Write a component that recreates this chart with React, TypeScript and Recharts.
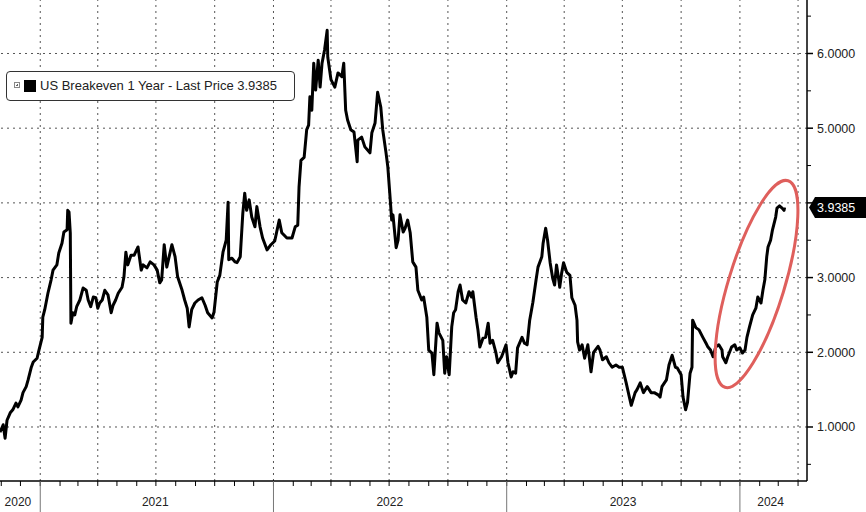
import React from "react";
import { LineChart, Line, XAxis, YAxis, ReferenceLine, ReferenceDot } from "recharts";

const SERIES_NAME = "US Breakeven 1 Year";

const dates = [
  "2020-10-30","2020-11-04","2020-11-07","2020-11-10","2020-11-15","2020-11-19","2020-11-24","2020-11-27","2020-12-02","2020-12-05",
  "2020-12-10","2020-12-13","2020-12-18","2020-12-21","2020-12-27","2020-12-30","2021-01-04","2021-01-05","2021-01-08","2021-01-13",
  "2021-01-18","2021-01-21","2021-01-27","2021-01-30","2021-02-04","2021-02-07","2021-02-12","2021-02-13","2021-02-15","2021-02-17",
  "2021-02-18","2021-02-21","2021-02-24","2021-02-27","2021-03-04","2021-03-09","2021-03-14","2021-03-17","2021-03-21","2021-03-25",
  "2021-03-29","2021-04-01","2021-04-04","2021-04-08","2021-04-12","2021-04-17","2021-04-22","2021-04-25","2021-04-29","2021-05-03",
  "2021-05-09","2021-05-12","2021-05-15","2021-05-18","2021-05-23","2021-05-28","2021-06-03","2021-06-08","2021-06-11","2021-06-17",
  "2021-06-22","2021-06-28","2021-07-03","2021-07-07","2021-07-10","2021-07-14","2021-07-18","2021-07-26","2021-07-31","2021-08-04",
  "2021-08-11","2021-08-15","2021-08-19","2021-08-22","2021-08-26","2021-08-31","2021-09-05","2021-09-11","2021-09-16","2021-09-20",
  "2021-09-27","2021-09-30","2021-10-05","2021-10-09","2021-10-14","2021-10-19","2021-10-22","2021-10-23","2021-10-28","2021-11-02",
  "2021-11-05","2021-11-10","2021-11-14","2021-11-17","2021-11-20","2021-11-24","2021-11-28","2021-12-03","2021-12-06","2021-12-11",
  "2021-12-15","2021-12-22","2021-12-28","2022-01-03","2022-01-10","2022-01-14","2022-01-22","2022-01-30","2022-02-04","2022-02-08",
  "2022-02-10","2022-02-13","2022-02-18","2022-02-22","2022-02-25","2022-02-27","2022-03-02","2022-03-05","2022-03-08","2022-03-12",
  "2022-03-15","2022-03-18","2022-03-22","2022-03-26","2022-03-27","2022-04-01","2022-04-07","2022-04-12","2022-04-18","2022-04-21",
  "2022-04-24","2022-04-27","2022-05-02","2022-05-07","2022-05-12","2022-05-13","2022-05-19","2022-05-24","2022-06-01","2022-06-04",
  "2022-06-09","2022-06-13","2022-06-18","2022-06-21","2022-06-26","2022-06-29","2022-07-02","2022-07-05","2022-07-07","2022-07-12",
  "2022-07-15","2022-07-18","2022-07-23","2022-07-26","2022-07-30","2022-08-03","2022-08-07","2022-08-12","2022-08-15","2022-08-21",
  "2022-08-24","2022-08-29","2022-09-01","2022-09-06","2022-09-09","2022-09-14","2022-09-17","2022-09-23","2022-09-26","2022-09-29",
  "2022-10-03","2022-10-07","2022-10-10","2022-10-13","2022-10-17","2022-10-20","2022-10-24","2022-10-29","2022-11-03","2022-11-07",
  "2022-11-09","2022-11-14","2022-11-17","2022-11-20","2022-11-25","2022-11-29","2022-12-03","2022-12-06","2022-12-10","2022-12-15",
  "2022-12-18","2022-12-24","2022-12-31","2023-01-03","2023-01-08","2023-01-11","2023-01-15","2023-01-18","2023-01-25","2023-01-29",
  "2023-02-02","2023-02-06","2023-02-11","2023-02-16","2023-02-19","2023-02-25","2023-02-27","2023-03-03","2023-03-06","2023-03-10",
  "2023-03-14","2023-03-17","2023-03-20","2023-03-24","2023-03-25","2023-03-28","2023-03-31","2023-04-05","2023-04-10","2023-04-13",
  "2023-04-18","2023-04-21","2023-04-22","2023-04-25","2023-04-29","2023-05-03","2023-05-08","2023-05-13","2023-05-17","2023-05-24",
  "2023-05-27","2023-05-31","2023-06-06","2023-06-10","2023-06-15","2023-06-21","2023-06-26","2023-07-01","2023-07-07","2023-07-12",
  "2023-07-15","2023-07-21","2023-07-24","2023-07-29","2023-08-03","2023-08-09","2023-08-15","2023-08-20","2023-08-26","2023-08-29",
  "2023-09-01","2023-09-08","2023-09-12","2023-09-17","2023-09-22","2023-09-25","2023-10-01","2023-10-04","2023-10-08","2023-10-11",
  "2023-10-15","2023-10-18","2023-10-19","2023-10-24","2023-10-29","2023-11-04","2023-11-09","2023-11-12","2023-11-16","2023-11-20",
  "2023-11-24","2023-11-29","2023-12-04","2023-12-05","2023-12-10","2023-12-13","2023-12-19","2023-12-24","2023-12-27","2024-01-01",
  "2024-01-05","2024-01-09","2024-01-12","2024-01-16","2024-01-21","2024-01-26","2024-01-29","2024-02-03","2024-02-06","2024-02-09",
  "2024-02-12","2024-02-14","2024-02-18","2024-02-21","2024-02-26","2024-02-28","2024-03-03","2024-03-07","2024-03-10","2024-03-11",
];

const values = [
  0.93, 1.03, 0.85, 1.09, 1.19, 1.23, 1.32, 1.27, 1.36, 1.46,
  1.54, 1.63, 1.80, 1.87, 1.92, 2.03, 2.20, 2.47, 2.57, 2.79,
  2.97, 3.10, 3.17, 3.33, 3.46, 3.61, 3.64, 3.90, 3.88, 3.60,
  2.39, 2.53, 2.50, 2.61, 2.70, 2.86, 2.83, 2.70, 2.61, 2.74,
  2.73, 2.59, 2.66, 2.70, 2.83, 2.77, 2.53, 2.63, 2.70, 2.79,
  2.87, 3.01, 3.34, 3.17, 3.30, 3.30, 3.41, 3.10, 3.17, 3.13,
  3.21, 3.17, 3.10, 2.93, 2.97, 3.44, 3.14, 3.44, 3.28, 3.01,
  2.83, 2.70, 2.59, 2.34, 2.57, 2.66, 2.70, 2.73, 2.63, 2.53,
  2.46, 2.54, 2.94, 3.03, 3.34, 3.50, 4.01, 3.24, 3.26, 3.21,
  3.20, 3.28, 3.86, 4.13, 3.90, 4.04, 3.81, 3.68, 3.95, 3.68,
  3.53, 3.37, 3.44, 3.49, 3.77, 3.60, 3.53, 3.53, 3.68, 3.70,
  4.21, 4.57, 4.61, 4.98, 5.04, 5.42, 5.24, 5.87, 5.51, 5.91,
  5.55, 5.87, 6.05, 6.31, 5.95, 5.65, 5.55, 5.74, 5.69, 5.87,
  5.24, 5.11, 4.98, 4.95, 4.55, 4.84, 4.88, 4.75, 4.67, 4.94,
  5.07, 5.48, 5.28, 4.98, 4.68, 4.48, 4.13, 3.77, 3.84, 3.40,
  3.50, 3.84, 3.61, 3.66, 3.77, 3.60, 3.21, 3.14, 2.83, 2.70,
  2.74, 2.47, 2.03, 1.99, 1.70, 2.39, 2.26, 2.16, 1.72, 1.94,
  1.70, 2.34, 2.53, 2.57, 2.81, 2.90, 2.70, 2.66, 2.81, 2.74,
  2.81, 2.47, 2.30, 2.07, 2.19, 2.20, 2.39, 2.12, 2.16, 2.00,
  1.86, 1.94, 2.10, 1.86, 1.67, 1.74, 1.72, 2.06, 2.20, 2.12,
  2.10, 2.43, 2.67, 2.97, 3.14, 3.28, 3.46, 3.66, 3.50, 3.20,
  2.99, 2.90, 3.17, 2.94, 2.87, 3.06, 3.20, 3.07, 3.03, 2.73,
  2.63, 2.43, 2.14, 2.03, 2.10, 1.92, 2.10, 1.74, 2.00, 2.08,
  2.03, 1.90, 1.94, 1.86, 1.80, 1.83, 1.80, 1.80, 1.59, 1.40,
  1.29, 1.46, 1.50, 1.59, 1.46, 1.54, 1.46, 1.46, 1.43, 1.40,
  1.54, 1.63, 1.83, 1.96, 1.80, 1.79, 1.70, 1.40, 1.23, 1.33,
  1.72, 1.80, 2.43, 2.33, 2.30, 2.20, 2.12, 2.07, 2.03, 1.94,
  2.07, 2.10, 2.03, 1.94, 1.86, 1.94, 2.07, 2.10, 2.03, 2.06,
  1.99, 2.03, 2.20, 2.34, 2.50, 2.59, 2.74, 2.66, 2.83, 2.97,
  3.28, 3.41, 3.50, 3.64, 3.81, 3.93, 3.96, 3.93, 3.90, 3.9385,
];

const monthTicks = [
  "2020-11-01","2020-12-01",
  "2021-01-01","2021-02-01","2021-03-01","2021-04-01","2021-05-01","2021-06-01",
  "2021-07-01","2021-08-01","2021-09-01","2021-10-01","2021-11-01","2021-12-01",
  "2022-01-01","2022-02-01","2022-03-01","2022-04-01","2022-05-01","2022-06-01",
  "2022-07-01","2022-08-01","2022-09-01","2022-10-01","2022-11-01","2022-12-01",
  "2023-01-01","2023-02-01","2023-03-01","2023-04-01","2023-05-01","2023-06-01",
  "2023-07-01","2023-08-01","2023-09-01","2023-10-01","2023-11-01","2023-12-01",
  "2024-01-01","2024-02-01","2024-03-01","2024-04-01",
];

const quarterGrid = [
  "2021-01-01","2021-04-01","2021-07-01","2021-10-01",
  "2022-01-01","2022-04-01","2022-07-01","2022-10-01",
  "2023-01-01","2023-04-01","2023-07-01","2023-10-01",
  "2024-01-01","2024-04-01",
];

const yearLabelDates = ["2020-11-27", "2021-06-30", "2022-07-02", "2023-07-02", "2024-02-18"];
const yearLabels = ["2020", "2021", "2022", "2023", "2024"];

const yMajorTicks = [1, 2, 3, 4, 5, 6];
const yMinorTicks = [0.5, 1.5, 2.5, 3.5, 4.5, 5.5, 6.5];

const X_DOMAIN = ["2020-10-30", "2024-04-15"];
const Y_DOMAIN = [0.277, 6.716];

// annotation ellipse centre (date, value)
const HIGHLIGHT_DATE = "2024-01-27";
const HIGHLIGHT_VALUE = 2.914;

const FONT = "'Liberation Sans', Arial, sans-serif";

const data = dates.map((d, i) => ({ t: Date.parse(d), v: values[i] }));
const lastValue = values[values.length - 1];
const yearMap = new Map(yearLabelDates.map((d, i) => [Date.parse(d), yearLabels[i]]));
const xTicks = [...monthTicks.map((d) => Date.parse(d)), ...yearLabelDates.map((d) => Date.parse(d))];
const yTicks = [...yMinorTicks, ...yMajorTicks, lastValue];

const XTick = (props: any) => {
  const { x, y, payload } = props;
  const v = payload.value;
  const label = yearMap.get(v);
  if (label) {
    return (
      <text x={x} y={y + 25} textAnchor="middle" fontSize={12} fill="#222" fontFamily={FONT}>
        {label}
      </text>
    );
  }
  const isJan = new Date(v).getUTCMonth() === 0;
  return (
    <g>
      <line x1={x} x2={x} y1={y} y2={y + 5} stroke="#000" strokeWidth={1} />
      {isJan && <line x1={x} x2={x} y1={y} y2={y + 32} stroke="#777" strokeWidth={1} />}
    </g>
  );
};

const YTick = (props: any) => {
  const { x, y, payload } = props;
  const v = payload.value;
  if (v === lastValue) {
    return (
      <g>
        <polygon
          points={`${x + 2},${y} ${x + 8},${y - 10.5} ${x + 59},${y - 10.5} ${x + 59},${y + 10.5} ${x + 8},${y + 10.5}`}
          fill="#000"
        />
        <text x={x + 10} y={y + 4.5} fontSize={12.5} fill="#fff" fontFamily={FONT}>
          {v.toFixed(4)}
        </text>
      </g>
    );
  }
  if (Number.isInteger(v)) {
    // a label hidden behind the last-price tag is not drawn
    const hidden = Math.abs(v - lastValue) < 0.2;
    return (
      <g>
        <line x1={x} x2={x + 6} y1={y} y2={y} stroke="#000" strokeWidth={1.5} />
        {!hidden && (
          <text x={x + 10} y={y + 4.5} fontSize={12.5} fill="#222" fontFamily={FONT}>
            {v.toFixed(4)}
          </text>
        )}
      </g>
    );
  }
  return <line x1={x} x2={x + 4} y1={y} y2={y} stroke="#000" strokeWidth={1} />;
};

const HighlightEllipse = (props: any) => {
  const { cx, cy } = props;
  return (
    <ellipse
      cx={cx}
      cy={cy}
      rx={28}
      ry={108}
      transform={`rotate(17 ${cx} ${cy})`}
      fill="none"
      stroke="#df5f5c"
      strokeWidth={3}
    />
  );
};

export default function App() {
  return (
    <div style={{ position: "absolute", left: 0, top: 0, width: 866, height: 512, background: "#fff" }}>
      <LineChart width={866} height={512} data={data} margin={{ top: 0, right: 0, bottom: 0, left: 0 }}>
        <XAxis
          dataKey="t"
          type="number"
          scale="linear"
          domain={[Date.parse(X_DOMAIN[0]), Date.parse(X_DOMAIN[1])]}
          allowDataOverflow
          ticks={xTicks}
          interval={0}
          tick={XTick}
          tickLine={false}
          tickSize={0}
          tickMargin={0}
          height={31}
          axisLine={{ stroke: "#000", strokeWidth: 1.5 }}
        />
        <YAxis
          orientation="right"
          type="number"
          domain={Y_DOMAIN}
          allowDataOverflow
          ticks={yTicks}
          interval={0}
          tick={YTick}
          tickLine={false}
          tickSize={0}
          tickMargin={0}
          width={59}
          axisLine={{ stroke: "#000", strokeWidth: 1.5 }}
        />
        {yMajorTicks.map((v) => (
          <ReferenceLine key={`h${v}`} y={v} stroke="#555" strokeWidth={1} strokeDasharray="2 4" />
        ))}
        {quarterGrid.map((d) => (
          <ReferenceLine key={`v${d}`} x={Date.parse(d)} stroke="#555" strokeWidth={1} strokeDasharray="2 4" />
        ))}
        <Line
          dataKey="v"
          name={SERIES_NAME}
          type="linear"
          stroke="#000"
          strokeWidth={3}
          dot={false}
          activeDot={false}
          isAnimationActive={false}
          strokeLinejoin="round"
        />
        <ReferenceDot
          x={Date.parse(HIGHLIGHT_DATE)}
          y={HIGHLIGHT_VALUE}
          r={0}
          shape={HighlightEllipse}
        />
      </LineChart>
      <div
        style={{
          position: "absolute",
          left: 6,
          top: 71,
          width: 289,
          height: 30,
          boxSizing: "border-box",
          border: "1px solid #333",
          borderRadius: 4,
          background: "#fff",
          fontFamily: FONT,
          fontSize: 13,
          color: "#222",
        }}
      >
        <div
          style={{
            position: "absolute",
            left: 7,
            top: 10,
            width: 6,
            height: 6,
            border: "1px solid #888",
            boxSizing: "border-box",
          }}
        >
          <div style={{ position: "absolute", left: 1, top: 2, width: 2, height: 0, borderTop: "1px solid #666" }} />
          <div style={{ position: "absolute", left: 2, top: 1, width: 0, height: 2, borderLeft: "1px solid #666" }} />
        </div>
        <div style={{ position: "absolute", left: 17, top: 8, width: 12, height: 12, background: "#000" }} />
        <div style={{ position: "absolute", left: 33, top: 6, whiteSpace: "nowrap", lineHeight: "16px" }}>
          {`${SERIES_NAME} - Last Price ${lastValue.toFixed(4)}`}
        </div>
      </div>
    </div>
  );
}
